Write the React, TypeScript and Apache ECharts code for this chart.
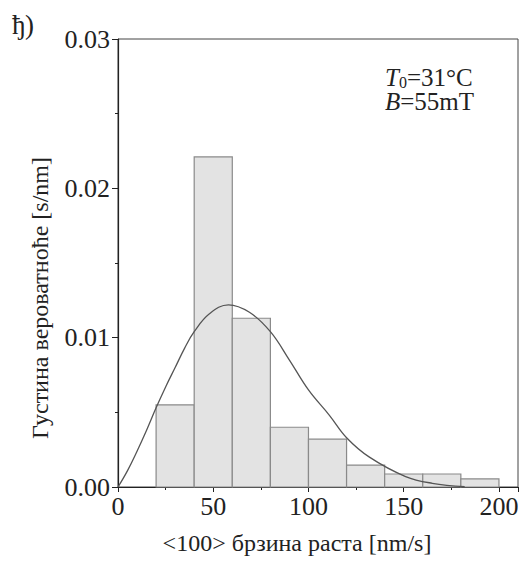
import React, { useEffect, useRef } from "react";
import * as echarts from "echarts";

// Histogram bins (lower/upper edges, nm/s) and probability density (s/nm)
const binLower = [20, 40, 60, 80, 100, 120, 140, 160, 180];
const binUpper = [40, 60, 80, 100, 120, 140, 160, 180, 200];
const density = [0.0055, 0.0221, 0.0113, 0.004, 0.0032, 0.00147, 0.00087, 0.00087, 0.00054];

// Fitted distribution curve
const curveX = [0, 5, 10, 15, 20, 25, 30, 35, 40, 48, 58, 69, 80, 90, 100, 111, 120, 132, 151, 165, 182];
const curveY = [0, 0.0011, 0.0024, 0.0038, 0.0053, 0.0067, 0.008, 0.0093, 0.0104, 0.0116, 0.0122, 0.0117, 0.0104, 0.0085, 0.0065, 0.0048, 0.0033, 0.002, 0.0007, 0.00025, 0.00003];

const xTicks = [0, 50, 100, 150, 200];
const yTicks = [0, 0.01, 0.02, 0.03];

const panelLabel = "ђ)";
const xTitle = "<100> брзина раста [nm/s]";
const yTitle = "Густина вероватноће [s/nm]";
const legendLine1 = "{i|T}{s|0}{n|=31°C}";
const legendLine2 = "{i|B}{n|=55mT}";

const FONT = "'Liberation Serif', 'DejaVu Serif', serif";

export default function App() {
  const ref = useRef<HTMLDivElement>(null);
  useEffect(() => {
    if (!ref.current) return;
    const chart = echarts.init(ref.current, null, { renderer: "svg" });
    const legendRich = {
      i: { fontFamily: FONT, fontSize: 25, fontStyle: "italic", fill: "#222", lineHeight: 23 },
      s: { fontFamily: FONT, fontSize: 16, fill: "#222", lineHeight: 13, padding: [10, 0, 0, 0] },
      n: { fontFamily: FONT, fontSize: 25, fill: "#222", lineHeight: 23 },
    };
    const option: any = {
      animation: false,
      backgroundColor: "#ffffff",
      grid: {
        left: 118,
        right: 5,
        top: 39,
        bottom: 75,
        show: true,
        borderColor: "#444",
        borderWidth: 1,
        backgroundColor: "transparent",
      },
      xAxis: {
        type: "value",
        min: 0,
        max: 210,
        interval: 50,
        axisLine: { show: true, lineStyle: { color: "#222", width: 1.2 } },
        axisTick: { show: true, inside: false, length: 5, lineStyle: { color: "#222" } },
        minorTick: { show: true, splitNumber: 2, length: 3, lineStyle: { color: "#222" } },
        splitLine: { show: false },
        axisLabel: {
          margin: 6,
          fontFamily: FONT,
          fontSize: 26,
          color: "#222",
          formatter: (v: number) => (xTicks.indexOf(v) >= 0 ? String(v) : ""),
        },
      },
      yAxis: {
        type: "value",
        min: 0,
        max: 0.03,
        interval: 0.01,
        axisLine: { show: true, lineStyle: { color: "#222", width: 1.2 } },
        axisTick: { show: true, inside: false, length: 6, lineStyle: { color: "#222" } },
        minorTick: { show: true, splitNumber: 2, length: 3, lineStyle: { color: "#222" } },
        splitLine: { show: false },
        axisLabel: {
          margin: 8,
          fontFamily: FONT,
          fontSize: 26,
          color: "#222",
          formatter: (v: number) => {
            const hit = yTicks.find((t) => Math.abs(t - v) < 1e-9);
            return hit === undefined ? "" : hit.toFixed(2);
          },
        },
      },
      series: [
        {
          type: "custom",
          data: binLower.map((l, i) => [l, binUpper[i], density[i]]),
          encode: { x: [0, 1], y: 2 },
          z: 2,
          renderItem: (params: any, api: any) => {
            const p0 = api.coord([api.value(0), api.value(2)]);
            const p1 = api.coord([api.value(1), 0]);
            return {
              type: "rect",
              shape: { x: p0[0], y: p0[1], width: p1[0] - p0[0], height: p1[1] - p0[1] },
              style: { fill: "#e3e3e3", stroke: "#8a8a8a", lineWidth: 1.2 },
            };
          },
        },
        {
          type: "line",
          data: curveX.map((x, i) => [x, curveY[i]]),
          smooth: 0.4,
          symbol: "none",
          z: 3,
          lineStyle: { color: "#555", width: 1.3 },
        },
      ],
      graphic: [
        {
          type: "text",
          left: 12,
          top: 11,
          style: { text: panelLabel, fontFamily: FONT, fontSize: 27, fill: "#222" },
        },
        {
          type: "text",
          x: 297,
          y: 543,
          style: {
            text: xTitle,
            fontFamily: FONT,
            fontSize: 24,
            fill: "#222",
            textAlign: "center",
            textVerticalAlign: "middle",
          },
        },
        {
          type: "text",
          x: 40,
          y: 298,
          rotation: Math.PI / 2,
          style: {
            text: yTitle,
            fontFamily: FONT,
            fontSize: 24,
            fill: "#222",
            textAlign: "center",
            textVerticalAlign: "middle",
          },
        },
        {
          type: "text",
          x: 385,
          y: 66,
          style: {
            text: legendLine1,
            textVerticalAlign: "top",
            fontFamily: FONT,
            fontSize: 25,
            fill: "#222",
            rich: legendRich,
          },
        },
        {
          type: "text",
          x: 385,
          y: 90,
          style: {
            text: legendLine2,
            textVerticalAlign: "top",
            fontFamily: FONT,
            fontSize: 25,
            fill: "#222",
            rich: legendRich,
          },
        },
      ],
    };
    chart.setOption(option);
    return () => chart.dispose();
  }, []);
  return (
    <div
      ref={ref}
      style={{ position: "absolute", left: 0, top: 0, width: 523, height: 562 }}
    />
  );
}
